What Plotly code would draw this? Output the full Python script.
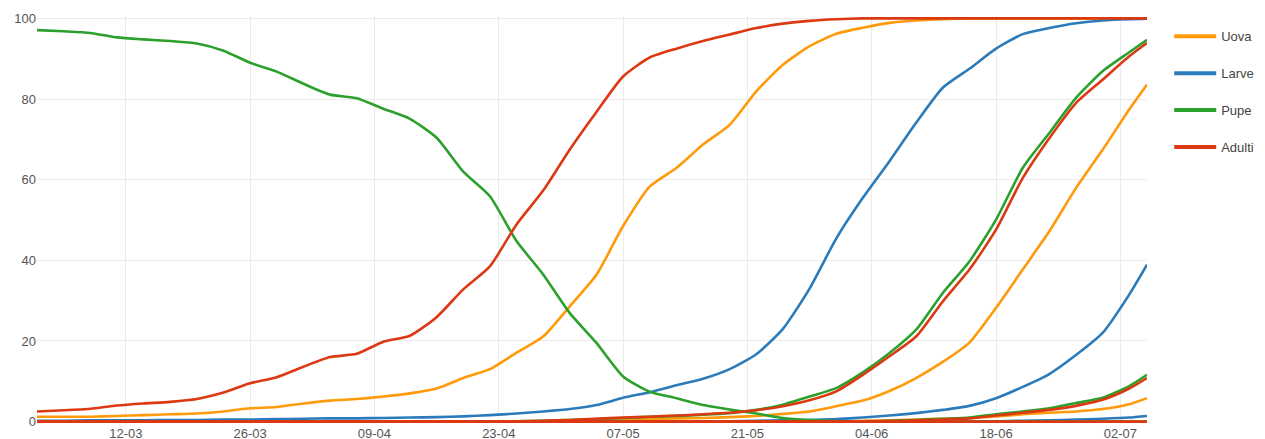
import plotly.graph_objects as go

dates = ["2019-03-02", "2019-03-05", "2019-03-08", "2019-03-11", "2019-03-14", "2019-03-17",
         "2019-03-20", "2019-03-23", "2019-03-26", "2019-03-29", "2019-04-01", "2019-04-04",
         "2019-04-07", "2019-04-10", "2019-04-13", "2019-04-16", "2019-04-19", "2019-04-22",
         "2019-04-25", "2019-04-28", "2019-05-01", "2019-05-04", "2019-05-07", "2019-05-10",
         "2019-05-13", "2019-05-16", "2019-05-19", "2019-05-22", "2019-05-25", "2019-05-28",
         "2019-05-31", "2019-06-03", "2019-06-06", "2019-06-09", "2019-06-12", "2019-06-15",
         "2019-06-18", "2019-06-21", "2019-06-24", "2019-06-27", "2019-06-30", "2019-07-03",
         "2019-07-05"]

# Uova (eggs), successive generations
uova_g1 = [1.2, 1.2, 1.2, 1.4, 1.6, 1.8, 2.0, 2.5, 3.3, 3.6,
           4.5, 5.2, 5.6, 6.2, 7.0, 8.2, 10.8, 13.0, 17.1, 21.1,
           28.6, 36.4, 48.5, 58.3, 62.9, 68.7, 73.6, 81.9, 88.5, 93.1,
           96.2, 97.7, 98.9, 99.5, 99.8, 100, 100, 100, 100, 100,
           100, 100, 100]
uova_g2 = [0, 0, 0, 0, 0, 0, 0, 0, 0, 0,
           0, 0, 0, 0, 0, 0, 0, 0, 0, 0,
           0.2, 0.3, 0.4, 0.6, 0.8, 0.9, 1.1, 1.4, 1.9, 2.5,
           3.8, 5.2, 7.6, 10.8, 14.8, 19.6, 28.2, 37.7, 47.2, 57.9,
           67.4, 77.4, 83.6]
uova_g3 = [0, 0, 0, 0, 0, 0, 0, 0, 0, 0,
           0, 0, 0, 0, 0, 0, 0, 0, 0, 0,
           0, 0, 0, 0, 0, 0, 0, 0, 0, 0,
           0, 0.2, 0.3, 0.5, 0.7, 0.9, 1.3, 1.8, 2.2, 2.5,
           3.1, 4.3, 5.8]
uova_g4 = [0, 0, 0, 0, 0, 0, 0, 0, 0, 0,
           0, 0, 0, 0, 0, 0, 0, 0, 0, 0,
           0, 0, 0, 0, 0, 0, 0, 0, 0, 0,
           0, 0, 0, 0, 0, 0, 0, 0, 0, 0,
           0, 0, 0]

# Larve
larve_g1 = [0.2, 0.2, 0.3, 0.3, 0.3, 0.4, 0.4, 0.5, 0.5, 0.6,
            0.7, 0.8, 0.8, 0.9, 1.0, 1.1, 1.3, 1.6, 2.0, 2.5,
            3.1, 4.1, 5.9, 7.3, 9.0, 10.6, 13.0, 16.7, 23.0, 33.0,
            45.4, 55.5, 64.6, 74.1, 82.8, 87.5, 92.5, 96.1, 97.6, 98.8,
            99.5, 99.8, 99.9]
larve_g2 = [0, 0, 0, 0, 0, 0, 0, 0, 0, 0,
            0, 0, 0, 0, 0, 0, 0, 0, 0, 0,
            0, 0, 0, 0, 0, 0, 0.1, 0.2, 0.3, 0.4,
            0.6, 1.0, 1.5, 2.1, 2.9, 3.9, 5.8, 8.6, 11.8, 16.5,
            22.0, 31.5, 38.9]
larve_g3 = [0, 0, 0, 0, 0, 0, 0, 0, 0, 0,
            0, 0, 0, 0, 0, 0, 0, 0, 0, 0,
            0, 0, 0, 0, 0, 0, 0, 0, 0, 0,
            0, 0, 0, 0, 0, 0, 0.1, 0.2, 0.3, 0.5,
            0.7, 1.0, 1.4]

# Pupe
pupe_g0 = [97.1, 96.8, 96.4, 95.3, 94.8, 94.4, 93.8, 92.0, 89.0, 86.8,
           83.8, 81.1, 80.2, 77.6, 75.1, 70.4, 62.0, 55.9, 44.8, 36.5,
           26.9, 19.5, 11.2, 7.4, 5.8, 4.1, 3.0, 2.0, 0.9, 0.4,
           0.1, 0, 0, 0, 0, 0, 0, 0, 0, 0,
           0, 0, 0]
pupe_g1 = [0, 0, 0, 0, 0, 0, 0, 0, 0, 0,
           0, 0, 0, 0, 0, 0, 0, 0.05, 0.1, 0.2,
           0.4, 0.6, 0.9, 1.2, 1.4, 1.7, 2.1, 2.9, 4.2, 6.2,
           8.3, 12.2, 17.0, 22.8, 31.9, 39.7, 50.1, 62.9, 71.6, 80.3,
           86.9, 91.6, 94.7]
pupe_g2 = [0, 0, 0, 0, 0, 0, 0, 0, 0, 0,
           0, 0, 0, 0, 0, 0, 0, 0, 0, 0,
           0, 0, 0, 0, 0, 0, 0, 0, 0, 0,
           0, 0, 0.2, 0.4, 0.7, 1.0, 1.8, 2.5, 3.3, 4.6,
           5.9, 8.8, 11.6]

# Adulti
adulti_g0 = [2.5, 2.8, 3.2, 4.0, 4.5, 4.9, 5.6, 7.2, 9.5, 11.0,
             13.6, 16.0, 16.8, 19.8, 21.3, 25.9, 32.8, 38.5, 48.9, 57.3,
             67.5, 76.8, 85.6, 90.3, 92.5, 94.4, 96.0, 97.6, 98.7, 99.4,
             99.8, 100, 100, 100, 100, 100, 100, 100, 100, 100,
             100, 100, 100]
adulti_g1 = [0, 0, 0, 0, 0, 0, 0, 0, 0, 0,
             0, 0, 0, 0, 0, 0, 0, 0, 0.1, 0.2,
             0.4, 0.7, 1.0, 1.2, 1.5, 1.8, 2.2, 2.8, 3.8, 5.3,
             7.5, 11.6, 16.2, 21.1, 29.8, 37.7, 47.6, 60.4, 70.3, 79.0,
             84.8, 90.6, 93.9]
adulti_g2 = [0, 0, 0, 0, 0, 0, 0, 0, 0, 0,
             0, 0, 0, 0, 0, 0, 0, 0, 0, 0,
             0, 0, 0, 0, 0, 0, 0, 0, 0, 0,
             0, 0, 0.15, 0.3, 0.5, 0.8, 1.5, 2.2, 2.9, 3.9,
             5.4, 8.2, 10.8]
adulti_g3 = [0, 0, 0, 0, 0, 0, 0, 0, 0, 0,
             0, 0, 0, 0, 0, 0, 0, 0, 0, 0,
             0, 0, 0, 0, 0, 0, 0, 0, 0, 0,
             0, 0, 0, 0, 0, 0, 0, 0, 0, 0,
             0, 0, 0]

stage_names = ["Uova", "Larve", "Pupe", "Adulti"]
stage_colors = ["#ff9a0a", "#2b7bba", "#2ca02c", "#dc3912"]
stage_series = [
    [uova_g1, uova_g2, uova_g3, uova_g4],
    [larve_g1, larve_g2, larve_g3],
    [pupe_g0, pupe_g1, pupe_g2],
    [adulti_g0, adulti_g1, adulti_g2, adulti_g3],
]

fig = go.Figure()
for name, color, series in zip(stage_names, stage_colors, stage_series):
    for s in series:
        fig.add_trace(go.Scatter(x=dates, y=s, mode="lines", name=name,
                                 line=dict(color=color, width=2.6,
                                           shape="spline", smoothing=0.6),
                                 showlegend=False, hoverinfo="x+y+name"))

# legend entries
for name, color in zip(stage_names, stage_colors):
    fig.add_trace(go.Scatter(x=[None], y=[None], mode="lines", name=name,
                             legendgroup=name,
                             line=dict(color=color, width=4)))

font_family = "Liberation Sans, Arial, sans-serif"
fig.update_layout(
    width=1257, height=439,
    margin=dict(l=29, r=118, t=8, b=23, pad=0, autoexpand=False),
    paper_bgcolor="white", plot_bgcolor="white",
    font=dict(family=font_family, size=13, color="#555555"),
    xaxis=dict(type="date", range=["2019-03-02", "2019-07-05"],
               tick0="2019-03-12", dtick=14 * 86400000, tickformat="%d-%m",
               showgrid=True, gridcolor="#ebebeb", gridwidth=1,
               zeroline=False, showline=False, ticks="", automargin=False,
               tickfont=dict(size=13, color="#555555")),
    yaxis=dict(range=[-0.6, 100.6], tick0=0, dtick=20,
               showgrid=True, gridcolor="#ebebeb", gridwidth=1,
               zeroline=False, showline=False, ticks="", automargin=False,
               tickfont=dict(size=13, color="#555555")),
    legend=dict(x=1.02, y=0.987, xanchor="left", yanchor="top",
                font=dict(size=13, color="#444444"),
                tracegroupgap=17, traceorder="grouped", itemwidth=42,
                bgcolor="rgba(0,0,0,0)"),
    showlegend=True,
)

fig.write_html("out.html")
